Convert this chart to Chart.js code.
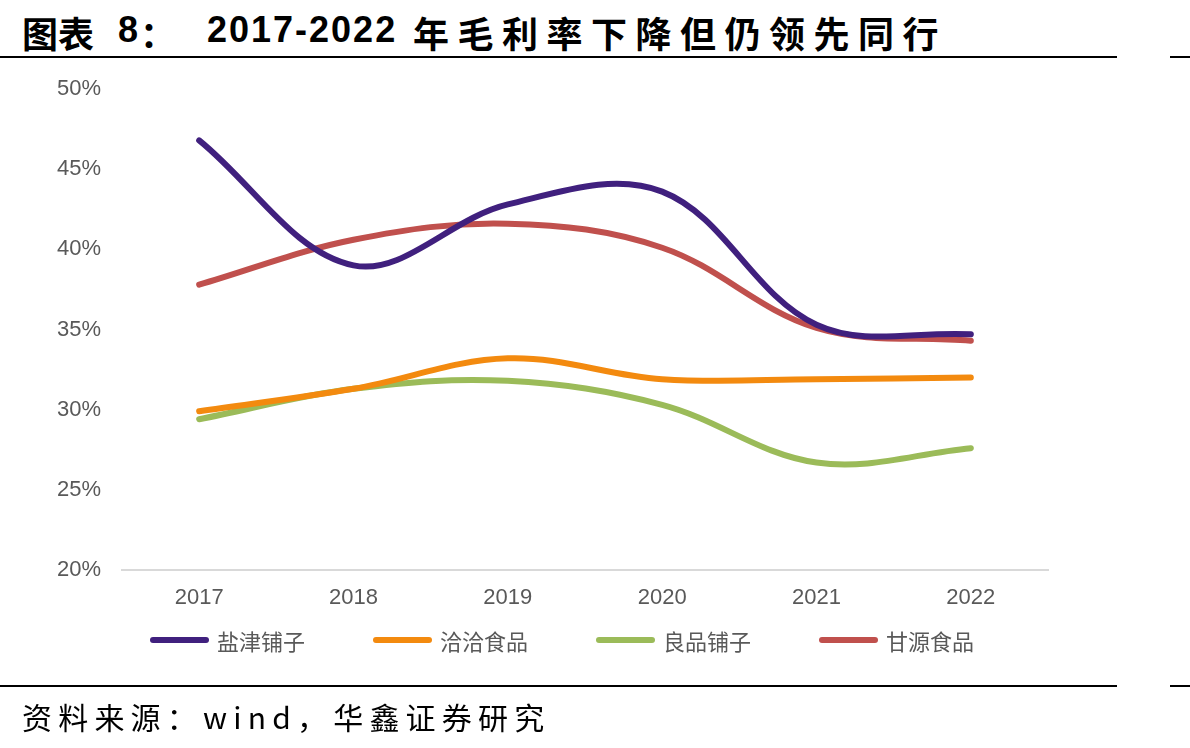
<!DOCTYPE html>
<html>
<head>
<meta charset="utf-8">
<script src="https://cdn.jsdelivr.net/npm/chart.js@4/dist/chart.umd.min.js"></script>
<style>
  html, body { margin: 0; padding: 0; background: #fff; }
  body { width: 1190px; height: 748px; position: relative; overflow: hidden; }
  #chart { position: absolute; left: 0; top: 0; }
  .t { position: absolute; top: 6px; font-family: "Noto Sans CJK SC"; font-weight: bold; font-size: 36px; color: #000; white-space: nowrap; }
  .num { font-family: "Liberation Sans", Arial; letter-spacing: 2px; top: 9px; }
  .rule { position: absolute; height: 2px; background: #000; }
  #source { position: absolute; left: 22px; top: 694px; font-family: "Noto Sans CJK SC"; font-size: 30px; letter-spacing: 6.2px; color: #000; white-space: nowrap; }
  #legend { position: absolute; left: 150px; top: 624px; display: flex; gap: 68px; }
  .item { display: flex; align-items: center; font-family: "Noto Sans CJK SC"; font-size: 22px; color: #595959; }
  .swatch { width: 59px; height: 6px; border-radius: 3px; margin-right: 8px; }
</style>
</head>
<body>
<span class="t" style="left:22px">图表</span>
<span class="t num" style="left:118px">8</span>
<span class="t" style="left:140px">：</span>
<span class="t num" style="left:207px">2017-2022</span>
<span class="t" style="left:413px; letter-spacing:8.5px">年毛利率下降但仍领先同行</span>
<div class="rule" style="left:0; top:56px; width:1117px"></div>
<div class="rule" style="left:1170px; top:56px; width:20px"></div>

<canvas id="chart" width="1190" height="748"></canvas>
<div id="legend"></div>

<div class="rule" style="left:0; top:685px; width:1117px"></div>
<div class="rule" style="left:1170px; top:685px; width:20px"></div>
<div id="source">资料来源：wind，华鑫证券研究</div>

<script>
// 年份
const years = ['2017', '2018', '2019', '2020', '2021', '2022'];

// 毛利率 (%)
const yanjin = [46.8, 39.0, 42.8, 43.6, 35.3, 34.7];   // 盐津铺子
const qiaqia = [29.9, 31.3, 33.2, 31.9, 31.9, 32.0];   // 洽洽食品
const liangpin = [29.4, 31.3, 31.8, 30.3, 26.7, 27.6]; // 良品铺子
const ganyuan = [37.8, 40.6, 41.6, 40.1, 35.1, 34.3];  // 甘源食品

const seriesNames = ['盐津铺子', '洽洽食品', '良品铺子', '甘源食品'];
const seriesColors = ['#40207e', '#f38a0f', '#9bbb59', '#c0504d'];
const seriesData = [yanjin, qiaqia, liangpin, ganyuan];

// 纵轴刻度
const yMin = 20, yMax = 50, yStep = 5;

const axisFont = { family: '"Liberation Sans", Arial', size: 22 };

let ctx = document.getElementById('chart').getContext('2d');
let chart = new Chart(ctx, {
    type: 'line',
    data: {
        labels: years,
        datasets: seriesNames.map((name, i) => ({
            label: name,
            data: seriesData[i],
            borderColor: seriesColors[i],
            backgroundColor: seriesColors[i],
            borderWidth: 6,
            borderCapStyle: 'round',
            pointRadius: 0,
            tension: 0.36,
            fill: false
        }))
    },
    options: {
        responsive: false,
        animation: false,
        layout: { padding: { top: 89, right: 142, bottom: 128, left: 0 } },
        plugins: {
            legend: { display: false },
            tooltip: { enabled: false }
        },
        scales: {
            x: {
                offset: true,
                grid: { display: false, drawTicks: false },
                border: { display: true, color: '#d9d9d9', width: 2 },
                ticks: { color: '#595959', font: axisFont, padding: 15 },
                afterFit: scale => { scale.height = 50; }
            },
            y: {
                min: yMin,
                max: yMax,
                grid: { display: false, drawTicks: false },
                border: { display: false },
                ticks: {
                    stepSize: yStep,
                    color: '#595959',
                    font: axisFont,
                    padding: 21,
                    callback: v => v + '%'
                },
                afterFit: scale => { scale.width = 122; }
            }
        }
    }
});

// 图例
const legendBox = document.getElementById('legend');
chart.data.datasets.forEach(ds => {
    const item = document.createElement('div');
    item.className = 'item';
    const sw = document.createElement('span');
    sw.className = 'swatch';
    sw.style.background = ds.borderColor;
    const txt = document.createElement('span');
    txt.textContent = ds.label;
    item.appendChild(sw);
    item.appendChild(txt);
    legendBox.appendChild(item);
});
</script>
</body>
</html>
